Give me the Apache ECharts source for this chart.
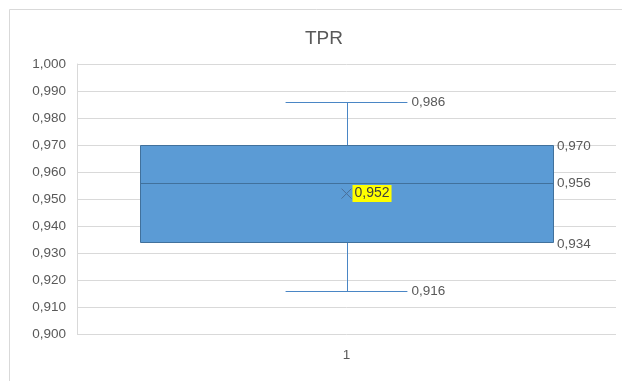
<!DOCTYPE html>
<html>
<head>
<meta charset="utf-8">
<script src="https://cdn.jsdelivr.net/npm/echarts@6/dist/echarts.min.js"></script>
<style>
  html, body { margin: 0; padding: 0; background: #ffffff; }
  #chart { width: 622px; height: 381px; }
</style>
</head>
<body>
<div id="chart"></div>
<script>
// Box plot of TPR: five-number summary plus mean
const categories = ['1'];
const minValues = [0.916];
const q1Values = [0.934];
const medianValues = [0.956];
const q3Values = [0.970];
const maxValues = [0.986];
const meanValues = [0.952];

const yMin = 0.9;
const yMax = 1.0;
const yStep = 0.01;

const FONT = 'Liberation Sans, Arial, sans-serif';
const TEXT_GREY = '#595959';
const LABEL_SIZE = 13.5;

const fmt = v => v.toFixed(3).replace('.', ',');

const seriesData = categories.map((c, i) => [
  i, minValues[i], q1Values[i], medianValues[i], q3Values[i], maxValues[i], meanValues[i]
]);

function crisp(v) { return Math.round(v) + 0.5; }

function renderBox(params, api) {
  const idx = api.value(0);
  const vMin = api.value(1), vQ1 = api.value(2), vMed = api.value(3);
  const vQ3 = api.value(4), vMax = api.value(5), vMean = api.value(6);
  const band = api.size([1, 0])[0];
  const cx = api.coord([idx, vMed])[0];
  const y = v => api.coord([idx, v])[1];
  const boxHalf = band * 0.383;
  const capHalf = band * 0.113;
  const left = Math.round(cx - boxHalf);
  const right = Math.round(cx + boxHalf);
  const xc = crisp(cx);

  const whiskerStyle = { stroke: '#4A86C5', lineWidth: 1, fill: null };
  const labelStyle = (text, x, yy) => ({
    type: 'text',
    style: {
      text: text, x: x, y: yy, align: 'left', verticalAlign: 'middle',
      fill: TEXT_GREY, font: LABEL_SIZE + 'px ' + FONT
    }
  });

  const children = [
    // whiskers
    { type: 'line', shape: { x1: xc, y1: crisp(y(vMax)), x2: xc, y2: y(vQ3) }, style: whiskerStyle },
    { type: 'line', shape: { x1: xc, y1: y(vQ1), x2: xc, y2: crisp(y(vMin)) }, style: whiskerStyle },
    { type: 'line', shape: { x1: cx - capHalf, y1: crisp(y(vMax)), x2: cx + capHalf, y2: crisp(y(vMax)) }, style: whiskerStyle },
    { type: 'line', shape: { x1: cx - capHalf, y1: crisp(y(vMin)), x2: cx + capHalf, y2: crisp(y(vMin)) }, style: whiskerStyle },
    // box
    {
      type: 'rect',
      shape: { x: left + 0.5, y: crisp(y(vQ3)), width: right - left, height: Math.round(y(vQ1) - y(vQ3)) },
      style: { fill: '#5B9BD5', stroke: '#41719C', lineWidth: 1 }
    },
    // median
    { type: 'line', shape: { x1: left, y1: crisp(y(vMed)), x2: right, y2: crisp(y(vMed)) }, style: { stroke: '#41719C', lineWidth: 1 } },
    // mean marker (x)
    { type: 'line', shape: { x1: cx - 5, y1: y(vMean) - 5, x2: cx + 5, y2: y(vMean) + 5 }, style: { stroke: '#4A6F99', lineWidth: 1 } },
    { type: 'line', shape: { x1: cx - 5, y1: y(vMean) + 5, x2: cx + 5, y2: y(vMean) - 5 }, style: { stroke: '#4A6F99', lineWidth: 1 } },
    // mean label with highlight
    {
      type: 'text',
      style: {
        text: fmt(vMean), x: cx + 6, y: y(vMean), align: 'left', verticalAlign: 'middle',
        fill: '#404040', font: '14px ' + FONT,
        backgroundColor: '#FFFF00', padding: [2, 2, 1, 2]
      }
    },
    // value labels
    labelStyle(fmt(vMax), cx + capHalf + 4, y(vMax)),
    labelStyle(fmt(vQ3), right + 4, y(vQ3) + 1),
    labelStyle(fmt(vMed), right + 4, y(vMed)),
    labelStyle(fmt(vQ1), right + 4, y(vQ1) + 2),
    labelStyle(fmt(vMin), cx + capHalf + 4, y(vMin))
  ];

  return { type: 'group', children: children };
}

const chart = echarts.init(document.getElementById('chart'), null, { renderer: 'canvas' });

chart.setOption({
  animation: false,
  backgroundColor: '#ffffff',
  title: {
    text: 'TPR',
    left: 319,
    top: 24,
    textAlign: 'center',
    textStyle: { color: TEXT_GREY, fontSize: 19, fontWeight: 'normal', fontFamily: FONT }
  },
  graphic: [
    {
      type: 'rect',
      shape: { x: 9.5, y: 9.5, width: 700, height: 450 },
      style: { fill: null, stroke: '#d9d9d9', lineWidth: 1 },
      silent: true,
      z: -1
    }
  ],
  grid: { left: 77, right: 6, top: 64, bottom: 47 },
  xAxis: {
    type: 'category',
    data: categories,
    boundaryGap: true,
    axisLine: { show: false },
    axisTick: { show: false },
    axisLabel: { color: TEXT_GREY, fontSize: LABEL_SIZE, fontFamily: FONT, margin: 14 }
  },
  yAxis: {
    type: 'value',
    min: yMin,
    max: yMax,
    interval: yStep,
    axisLine: { show: true, lineStyle: { color: '#d9d9d9' } },
    axisTick: { show: false },
    splitLine: { lineStyle: { color: '#d9d9d9', width: 1 } },
    axisLabel: { color: TEXT_GREY, fontSize: LABEL_SIZE, fontFamily: FONT, margin: 11, formatter: v => fmt(v) }
  },
  series: [
    {
      type: 'custom',
      renderItem: renderBox,
      encode: { x: 0, y: [1, 2, 3, 4, 5] },
      data: seriesData,
      clip: false
    }
  ]
});
</script>
</body>
</html>
